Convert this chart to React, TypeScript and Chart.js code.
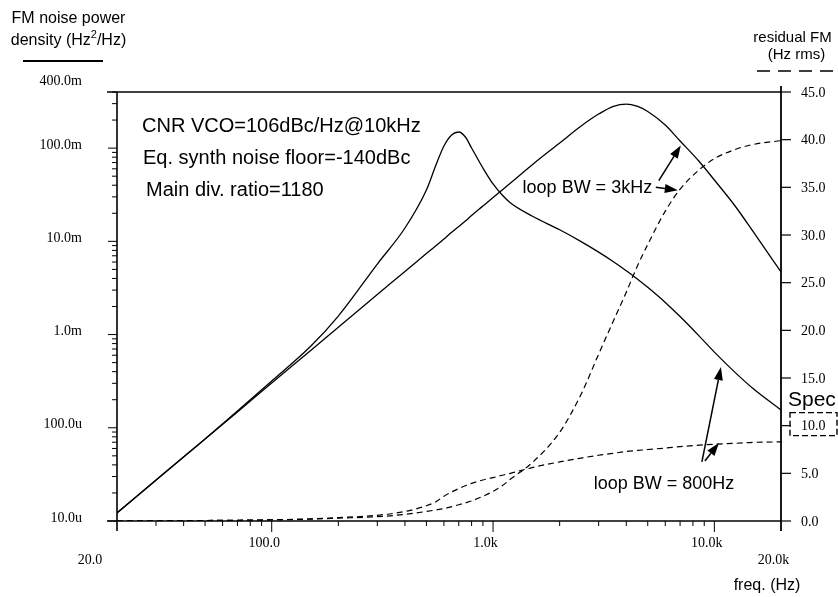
import { useEffect, useRef } from 'react';
import { Chart, registerables } from 'chart.js';

Chart.register(...registerables);

// Offset frequency grid (Hz) shared by the four curves
const freqHz = [
  20, 30, 50, 70, 100, 150, 200, 300, 400, 500, 550, 600, 650, 700, 750, 800, 900,
  1000, 1100, 1200, 1500, 2000, 2500, 3000, 3500, 4000, 4500, 5000, 6000, 7000, 8500,
  10000, 12500, 15000, 20000,
];

// FM noise power density (Hz^2/Hz), loop BW = 800 Hz
const densityBw800 = [
  1.22e-5, 2.75e-5, 7.6e-5, 1.51e-4, 3.18e-4, 7.5e-4, 1.58e-3, 5.71e-3, 1.39e-2, 3.555e-2,
  6.43e-2, 0.1054, 0.1383, 0.1489, 0.1316, 0.1003, 0.0612, 0.04123, 0.03142, 0.02579,
  0.0187, 0.0133, 9.94e-3, 7.67e-3, 6.05e-3, 4.84e-3, 3.93e-3, 3.21e-3, 2.21e-3,
  1.56e-3, 9.75e-4, 6.48e-4, 3.86e-4, 2.62e-4, 1.55e-4,
];

// FM noise power density (Hz^2/Hz), loop BW = 3 kHz
const densityBw3k = [
  1.22e-5, 2.73e-5, 7.6e-5, 1.48e-4, 3.02e-4, 6.75e-4, 1.2e-3, 2.69e-3, 4.75e-3, 7.4e-3,
  8.9e-3, 1.06e-2, 1.25e-2, 1.44e-2, 1.65e-2, 1.89e-2, 2.39e-2, 2.95e-2, 3.555e-2,
  4.23e-2, 6.6e-2, 0.1135, 0.1726, 0.232, 0.281, 0.297, 0.2797, 0.2472, 0.1771, 0.1193,
  0.0728, 0.0455, 0.02336, 0.0126, 4.69e-3,
];

// Integrated residual FM (Hz rms), loop BW = 800 Hz
const residualBw800 = [
  0, 0.02, 0.05, 0.08, 0.13, 0.22, 0.35, 0.6, 1.0, 1.6, 2.0, 2.6, 3.05, 3.4, 3.7, 3.95,
  4.3, 4.55, 4.8, 5.0, 5.6, 6.2, 6.6, 6.9, 7.1, 7.3, 7.4, 7.5, 7.65, 7.8, 7.95, 8.05,
  8.15, 8.25, 8.3,
];

// Integrated residual FM (Hz rms), loop BW = 3 kHz
const residualBw3k = [
  0, 0.02, 0.05, 0.08, 0.12, 0.2, 0.3, 0.45, 0.7, 1.0, 1.15, 1.3, 1.5, 1.7, 1.9, 2.1, 2.6,
  3.1, 3.7, 4.4, 6.1, 9.3, 13.3, 17.5, 21.0, 24.0, 26.8, 29.0, 32.5, 34.8, 36.8, 38.0,
  39.0, 39.5, 39.9,
];

const densityTicks = [1e-5, 1e-4, 1e-3, 1e-2, 1e-1, 0.4];
const densityTickLabels = ['10.0u', '100.0u', '1.0m', '10.0m', '100.0m', '400.0m'];
const residualTicks = [0, 5, 10, 15, 20, 25, 30, 35, 40, 45];
const residualTickLabels = ['0.0', '5.0', '10.0', '15.0', '20.0', '25.0', '30.0', '35.0', '40.0', '45.0'];
const freqTicks = [20, 100, 1000, 10000, 20000];
const freqTickLabels = ['20.0', '100.0', '1.0k', '10.0k', '20.0k'];
const specResidualHz = 10;

const conditionLines = [
  'CNR VCO=106dBc/Hz@10kHz',
  'Eq. synth noise floor=-140dBc',
  'Main div. ratio=1180',
];

const SANS = '"Liberation Sans", Arial, Helvetica, sans-serif';
const SERIF = '"Liberation Serif", "Times New Roman", Times, serif';

// Curve call-outs, in data units (frequency, residual FM axis)
const callouts = [
  {
    text: 'loop BW = 3kHz',
    at: [1360, 34.4],
    arrows: [
      [[5610, 35.7], [7054, 39.4]],
      [[5438, 35.0], [6838, 34.7]],
    ],
  },
  {
    text: 'loop BW = 800Hz',
    at: [2850, 3.36],
    arrows: [
      [[8782, 6.2], [10706, 16.15]],
      [[9061, 6.3], [10486, 8.18]],
    ],
  },
];

function drawArrow(ctx: CanvasRenderingContext2D, x0: number, y0: number, x1: number, y1: number) {
  const ang = Math.atan2(y1 - y0, x1 - x0);
  const len = 13;
  const half = 4.5;
  const bx = x1 - len * Math.cos(ang);
  const by = y1 - len * Math.sin(ang);
  ctx.lineWidth = 1.5;
  ctx.beginPath();
  ctx.moveTo(x0, y0);
  ctx.lineTo(bx, by);
  ctx.stroke();
  ctx.beginPath();
  ctx.moveTo(x1, y1);
  ctx.lineTo(bx + half * Math.sin(ang), by - half * Math.cos(ang));
  ctx.lineTo(bx - half * Math.sin(ang), by + half * Math.cos(ang));
  ctx.closePath();
  ctx.fill();
}

const decorPlugin = {
  id: 'fmDecor',
  afterDraw(chart: any) {
    const ctx: CanvasRenderingContext2D = chart.ctx;
    const a = chart.chartArea;
    const sx = chart.scales.x;
    const sl = chart.scales.yL;
    const sr = chart.scales.yR;
    const X = (f: number) => sx.getPixelForValue(f);
    const YL = (v: number) => sl.getPixelForValue(v);
    const YR = (v: number) => sr.getPixelForValue(v);

    ctx.save();
    ctx.strokeStyle = '#000';
    ctx.fillStyle = '#000';
    ctx.setLineDash([]);
    const seg = (x0: number, y0: number, x1: number, y1: number, w = 1.2) => {
      ctx.lineWidth = w;
      ctx.beginPath();
      ctx.moveTo(x0, y0);
      ctx.lineTo(x1, y1);
      ctx.stroke();
    };

    // frame and axis lines
    seg(a.left - 10, a.top, a.right, a.top, 1.4);
    seg(a.left - 10, a.bottom, a.right, a.bottom, 1.6);
    seg(a.left, a.top, a.left, a.bottom + 10, 1.6);
    seg(a.right, a.top - 6, a.right, a.bottom + 10, 1.8);

    // left log ticks
    for (let e = -5; e <= -1; e++) {
      for (let k = 1; k <= 9; k++) {
        const v = k * Math.pow(10, e);
        if (v > 0.4 + 1e-9) break;
        const y = YL(v);
        seg(a.left - (k === 1 ? 9 : 5), y, a.left, y, 1);
      }
    }
    // bottom log ticks
    for (let e = 1; e <= 4; e++) {
      for (let k = 1; k <= 9; k++) {
        const f = k * Math.pow(10, e);
        if (f <= 20 || f >= 20000) continue;
        const x = X(f);
        seg(x, a.bottom, x, a.bottom + (k === 1 ? 11 : 5), 1);
      }
    }
    // right linear ticks
    residualTicks.forEach((v) => {
      const y = YR(v);
      seg(a.right, y, a.right + 10, y, 1.2);
    });

    // tick labels
    ctx.font = `14px ${SERIF}`;
    ctx.textBaseline = 'middle';
    ctx.textAlign = 'right';
    densityTicks.forEach((v, i) => {
      const top = i === densityTicks.length - 1;
      ctx.fillText(densityTickLabels[i], a.left - 35, YL(v) - (top ? 11 : 3));
    });
    ctx.textAlign = 'center';
    freqTicks.forEach((f, i) => {
      const outer = i === 0 || i === freqTicks.length - 1;
      const dx = i === 0 ? -27 : -7.5;
      ctx.fillText(freqTickLabels[i], X(f) + dx, a.bottom + (outer ? 39 : 22.5));
    });
    ctx.textAlign = 'left';
    residualTicks.forEach((v, i) => {
      ctx.fillText(residualTickLabels[i], a.right + 20, YR(v) + 1);
    });

    // spec marker on the residual axis
    const ys = YR(specResidualHz);
    ctx.setLineDash([6, 3]);
    ctx.lineWidth = 1.4;
    ctx.strokeRect(a.right + 9, ys - 13, 47, 23);
    ctx.setLineDash([]);
    ctx.font = `21px ${SANS}`;
    ctx.textBaseline = 'alphabetic';
    ctx.textAlign = 'left';
    ctx.fillText('Spec', a.right + 7, ys - 20);

    // axis titles
    ctx.textAlign = 'center';
    ctx.font = `16px ${SANS}`;
    ctx.fillText('FM noise power', 68.5, 23);
    const p1 = 'density (Hz';
    const p3 = '/Hz)';
    const w1 = ctx.measureText(p1).width;
    const w3 = ctx.measureText(p3).width;
    ctx.font = `11px ${SANS}`;
    const w2 = ctx.measureText('2').width;
    let tx = 68.5 - (w1 + w2 + w3) / 2;
    ctx.textAlign = 'left';
    ctx.font = `16px ${SANS}`;
    ctx.fillText(p1, tx, 45);
    tx += w1;
    ctx.font = `11px ${SANS}`;
    ctx.fillText('2', tx, 38);
    tx += w2;
    ctx.font = `16px ${SANS}`;
    ctx.fillText(p3, tx, 45);
    seg(23, 61, 103, 61, 2);

    ctx.textAlign = 'center';
    ctx.font = `15px ${SANS}`;
    ctx.fillText('residual FM', a.right + 11.5, 42);
    ctx.fillText('(Hz rms)', a.right + 15.5, 59);
    ctx.setLineDash([13, 8]);
    seg(a.right - 24, 71, 838, 71, 1.5);
    ctx.setLineDash([]);

    ctx.font = `16px ${SANS}`;
    ctx.fillText('freq. (Hz)', a.right - 14, 590);

    // operating conditions
    ctx.textAlign = 'left';
    ctx.font = `20px ${SANS}`;
    conditionLines.forEach((t, i) => {
      ctx.fillText(t, a.left + 25 + (i === 2 ? 4 : i), a.top + 40 + i * 32);
    });

    // curve call-outs
    ctx.font = `18px ${SANS}`;
    callouts.forEach((c) => {
      ctx.fillText(c.text, X(c.at[0]), YR(c.at[1]));
      c.arrows.forEach(([from, to]) => {
        drawArrow(ctx, X(from[0]), YR(from[1]), X(to[0]), YR(to[1]));
      });
    });

    ctx.restore();
  },
};

function series(values: number[], axis: string, dashed: boolean) {
  return {
    data: freqHz.map((f, i) => ({ x: f, y: values[i] })),
    yAxisID: axis,
    borderColor: '#000',
    backgroundColor: '#000',
    borderWidth: dashed ? 1.2 : 1.3,
    borderDash: dashed ? [6, 4] : [],
    pointRadius: 0,
    fill: false,
    cubicInterpolationMode: 'monotone' as const,
  };
}

const hiddenParts = {
  grid: { display: false },
  border: { display: false },
  ticks: { display: false },
};

export default function App() {
  const canvasRef = useRef<HTMLCanvasElement | null>(null);

  useEffect(() => {
    const canvas = canvasRef.current;
    if (!canvas) return;
    const chart = new Chart(canvas, {
      type: 'line',
      data: {
        datasets: [
          series(densityBw800, 'yL', false),
          series(densityBw3k, 'yL', false),
          series(residualBw800, 'yR', true),
          series(residualBw3k, 'yR', true),
        ],
      },
      options: {
        responsive: false,
        animation: false,
        devicePixelRatio: 1,
        events: [],
        layout: { padding: { top: 92, left: 0, right: 0, bottom: 0 } },
        plugins: { legend: { display: false }, tooltip: { enabled: false } },
        scales: {
          x: {
            type: 'logarithmic',
            min: 20,
            max: 20000,
            ...hiddenParts,
            afterFit: (s: any) => {
              s.height = 76;
            },
          },
          yL: {
            type: 'logarithmic',
            position: 'left',
            min: 1e-5,
            max: 0.4,
            ...hiddenParts,
            afterFit: (s: any) => {
              s.width = 117;
            },
          },
          yR: {
            type: 'linear',
            position: 'right',
            min: 0,
            max: 45,
            ...hiddenParts,
            afterFit: (s: any) => {
              s.width = 57;
            },
          },
        },
      } as any,
      plugins: [decorPlugin],
    });
    return () => chart.destroy();
  }, []);

  return (
    <div style={{ position: 'absolute', left: 0, top: 0, width: 838, height: 597, background: '#fff' }}>
      <canvas ref={canvasRef} width={838} height={597} style={{ width: 838, height: 597, display: 'block' }} />
    </div>
  );
}
